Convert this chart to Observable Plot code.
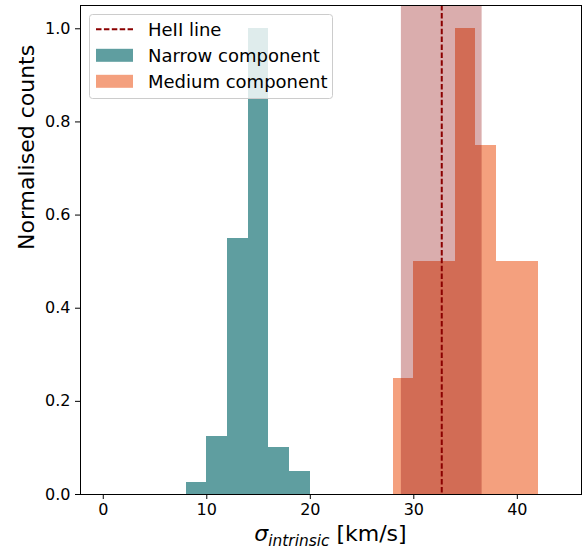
<!DOCTYPE html>
<html><head><meta charset="utf-8">
<script src="https://cdn.jsdelivr.net/npm/d3@7"></script>
<script src="https://cdn.jsdelivr.net/npm/@observablehq/plot@0.6"></script>
<style>
body{margin:0;background:#fff;font-family:"DejaVu Sans",sans-serif;}
#wrap{position:relative;width:584px;height:552px;}
#leg{position:absolute;left:0;top:0;pointer-events:none;}
</style>
</head><body>
<div id="wrap"></div>
<script>
// Narrow component histogram (bins in km/s, normalised counts)
const narrowBinStart = [8, 10, 12, 14, 16, 18];
const narrowBinEnd   = [10, 12, 14, 16, 18, 20];
const narrowCounts   = [0.025, 0.125, 0.55, 1.0, 0.1, 0.05];
// Medium component histogram
const mediumBinStart = [28, 30, 32, 34, 36, 38, 40];
const mediumBinEnd   = [30, 32, 34, 36, 38, 40, 42];
const mediumCounts   = [0.25, 0.5, 0.5, 1.0, 0.75, 0.5, 0.5];
// HeII line and its uncertainty band
const heiiCenter = 32.7;
const heiiLow = 28.8;
const heiiHigh = 36.6;
// ticks
const xTicks = [0, 10, 20, 30, 40];
const yTicks = [0, 0.2, 0.4, 0.6, 0.8, 1.0];
// legend
const legendLabels = ["HeII line", "Narrow component", "Medium component"];

const teal = "#5f9ea0";
const salmon = "#f4a07e";
const darkred = "#8b0000";

const narrow = narrowCounts.map((y, i) => ({x1: narrowBinStart[i], x2: narrowBinEnd[i], y}));
const medium = mediumCounts.map((y, i) => ({x1: mediumBinStart[i], x2: mediumBinEnd[i], y}));

const chart = Plot.plot({
  width: 584, height: 552,
  marginLeft: 80, marginRight: 3, marginTop: 5, marginBottom: 58,
  x: {domain: [-2.2, 46.2]},
  y: {domain: [0, 1.05]},
  style: {fontFamily: "DejaVu Sans, sans-serif", fontSize: "16px", color: "black", background: "white"},
  marks: [
    Plot.rectY(narrow, {x1: "x1", x2: "x2", y: "y", fill: teal, inset: 0, shapeRendering: "crispEdges"}),
    Plot.rectY(medium, {x1: "x1", x2: "x2", y: "y", fill: salmon, inset: 0, shapeRendering: "crispEdges"}),
    Plot.rect([{lo: heiiLow, hi: heiiHigh}], {x1: "lo", x2: "hi", fill: darkred, fillOpacity: 0.32}),
    Plot.ruleX([heiiCenter], {stroke: darkred, strokeWidth: 2, strokeDasharray: "5.5,2.4"}),
    Plot.axisX({ticks: xTicks, tickSize: 5, tickPadding: 4, label: null, fontSize: 16}),
    Plot.axisY({ticks: yTicks, tickFormat: d3.format(".1f"), tickSize: 5, tickPadding: 5, label: null, fontSize: 16}),
    Plot.text(["Normalised counts"], {frameAnchor: "left", dx: -47, rotate: -90, fontSize: 22, lineAnchor: "bottom", fill: "black"}),
    Plot.frame({stroke: "black", strokeWidth: 1})
  ]
});
document.getElementById("wrap").appendChild(chart);

// x label with italic sigma and subscript
const xl = d3.select(chart).append("text")
  .attr("x", 330.5).attr("y", 541)
  .attr("text-anchor", "middle")
  .attr("font-family", "DejaVu Sans, sans-serif")
  .attr("font-size", 22).attr("fill", "black");
xl.append("tspan").attr("font-style", "italic").text("σ");
xl.append("tspan").attr("font-style", "italic").attr("font-size", 15.4).attr("dy", 4.5).text("intrinsic");
xl.append("tspan").attr("dy", -4.5).text(" [km/s]");

// legend overlay
const leg = d3.select("#wrap").append("svg").attr("id", "leg").attr("width", 584).attr("height", 552);
leg.append("rect").attr("x", 89.5).attr("y", 14.5).attr("width", 243).attr("height", 84).attr("rx", 3)
  .attr("fill", "white").attr("fill-opacity", 0.8).attr("stroke", "#cccccc").attr("stroke-width", 1);
const rowY = [29.3, 55.3, 81.3];
leg.append("line").attr("x1", 96).attr("x2", 133).attr("y1", rowY[0]).attr("y2", rowY[0])
  .attr("stroke", darkred).attr("stroke-width", 2).attr("stroke-dasharray", "5.5,2.4");
leg.append("rect").attr("x", 96).attr("y", rowY[1] - 6.5).attr("width", 37).attr("height", 13).attr("fill", teal);
leg.append("rect").attr("x", 96).attr("y", rowY[2] - 6.5).attr("width", 37).attr("height", 13).attr("fill", salmon);
legendLabels.forEach((t, i) => {
  leg.append("text").attr("x", 148).attr("y", rowY[i] + 6.4)
    .attr("font-family", "DejaVu Sans, sans-serif").attr("font-size", 18).attr("fill", "black").text(t);
});
</script>
</body></html>
